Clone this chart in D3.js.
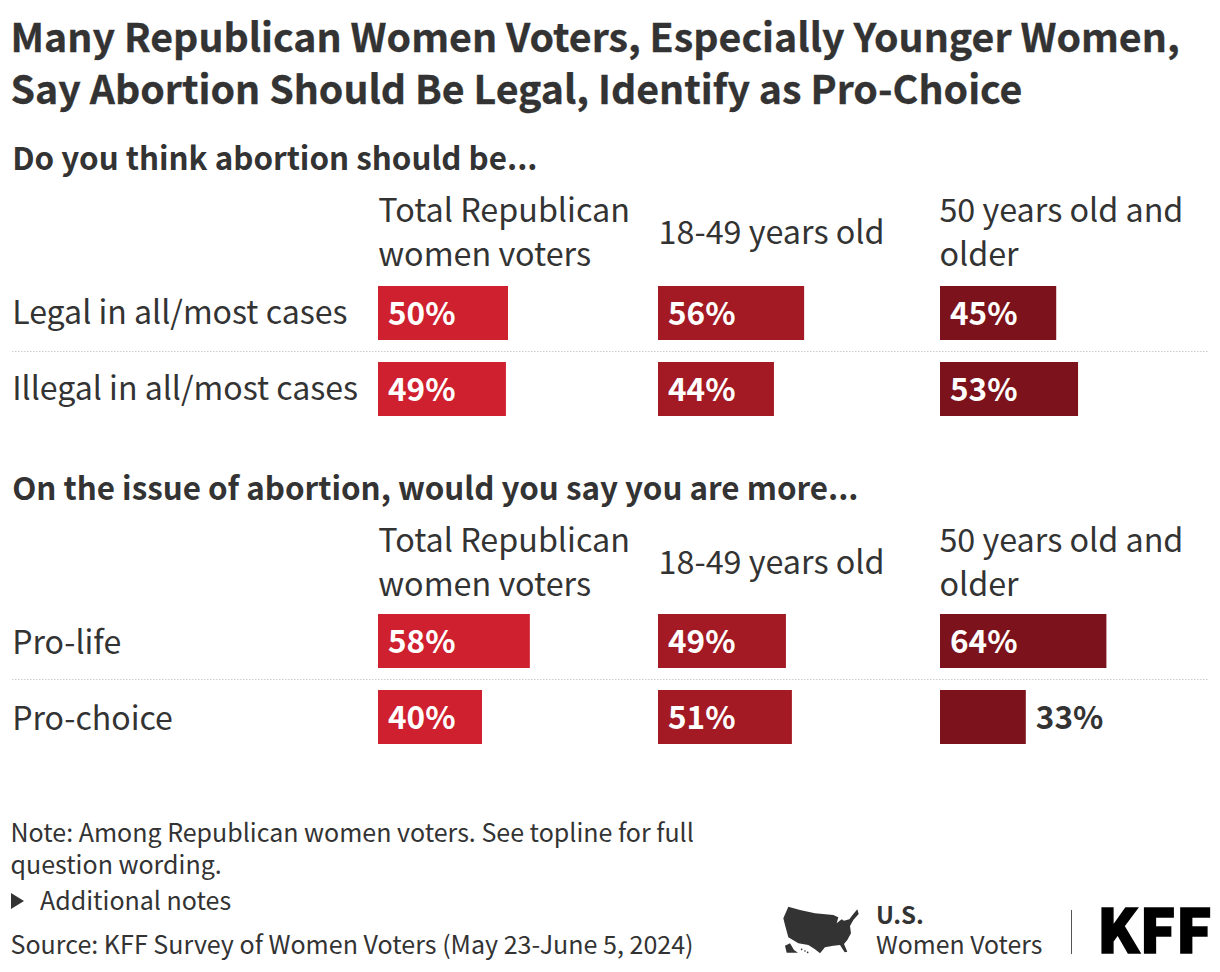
<!DOCTYPE html>
<html><head><meta charset="utf-8">
<script src="https://cdn.jsdelivr.net/npm/d3@7"></script>
<style>html,body{margin:0;padding:0;background:#fff}svg{display:block}text{font-family:"Noto Sans CJK SC","Noto Sans",sans-serif}</style>
</head><body><svg id="c" width="1220" height="972"></svg>
<script>
const titleLines=["Many Republican Women Voters, Especially Younger Women,","Say Abortion Should Be Legal, Identify as Pro-Choice"];
const groups=["Total Republican|women voters","18-49 years old","50 years old and|older"];
const colors=["#cf202f","#a31a25","#7c121b"];
const q1="Do you think abortion should be...";
const q1Cats=["Legal in all/most cases","Illegal in all/most cases"];
const q1Labels=[[50,56,45],[49,44,53]];
const q1Vals=[[50,56.2,44.7],[49.2,44.6,53.1]];
const q2="On the issue of abortion, would you say you are more...";
const q2Cats=["Pro-life","Pro-choice"];
const q2Labels=[[58,49,64],[40,51,33]];
const q2Vals=[[58.4,49.2,64],[40,51.5,33]];
const noteLines=["Note: Among Republican women voters. See topline for full","question wording."];
const x=d3.scaleLinear().domain([0,100]).range([0,260]);
const colX=[378,658,940];
const svg=d3.select("#c");
const ink="#333";
function t(s,xx,y,size,weight,fill){return svg.append("text").attr("x",xx).attr("y",y).attr("font-size",size).attr("font-weight",weight||400).attr("fill",fill||ink).text(s);}
titleLines.forEach((l,i)=>t(l,10.5,52+i*52,39.3,700).attr("stroke",ink).attr("stroke-width",0.3));
function block(q,cats,vals,labels,qy,hy,rowY,labelDy){
 t(q,12.2,qy,31.35,700);
 groups.forEach((g,i)=>{const ls=g.split("|");
  ls.forEach((l,j)=>t(l,colX[i]+(i==1?0.6:(i==2?-0.6:0.3)),(ls.length==1?hy+22:hy+j*44),32.3));});
 cats.forEach((c,r)=>{
  t(c,12.2,rowY[r]+38+labelDy,32.1);
  vals[r].forEach((v,i)=>{
   const w=x(v), lab=labels[r][i];
   svg.append("rect").attr("x",colX[i]).attr("y",rowY[r]).attr("width",w).attr("height",54).attr("fill",colors[i]);
   const inside=lab>=40;
   t(lab+"%",inside?colX[i]+10:colX[i]+w+10,rowY[r]+39,31.5,700,inside?"#fff":ink);
  });
 });
 svg.append("line").attr("x1",12).attr("x2",1208).attr("y1",rowY[0]+65.5).attr("y2",rowY[0]+65.5).attr("stroke","#ccc").attr("stroke-width",1.2).attr("stroke-dasharray","1.5 1.5");
}
block(q1,q1Cats,q1Vals,q1Labels,170,222,[286,362],0);
block(q2,q2Cats,q2Vals,q2Labels,500,552,[614,690],2);
noteLines.forEach((l,i)=>t(l,10.5,842+i*32,25));
svg.append("path").attr("d",d3.line()([[11,893],[24,901],[11,909]])+"Z").attr("fill",ink);
t("Additional notes",40,910,25);
t("Source: KFF Survey of Women Voters (May 23-June 5, 2024)",10.5,954,25.05);
// U.S. map logo
const usOutline=[[55,50],[90,60],[135,70],[190,75],[205,82],[200,100],[215,88],[222,92],[238,88],[250,72],[262,58],[266,72],[250,90],[240,108],[243,130],[232,150],[222,162],[232,185],[224,187],[210,165],[190,167],[165,172],[150,190],[135,178],[115,165],[85,160],[55,142],[45,105],[40,85]];
const akOutline=[[45,167],[60,160],[72,180],[84,188],[50,188]];
const logo=svg.append("g").attr("transform","translate(770,890) scale(0.3333)").attr("fill",ink);
logo.append("path").attr("d",d3.line()(usOutline)+"Z");
logo.append("path").attr("d",d3.line()(akOutline)+"Z");
[[95,178],[105,183],[113,187]].forEach(p=>logo.append("circle").attr("cx",p[0]).attr("cy",p[1]).attr("r",2.5));
t("U.S.",876,924,24,700);
t("Women Voters",876,954,24.8);
svg.append("line").attr("x1",1071.5).attr("x2",1071.5).attr("y1",910).attr("y2",954).attr("stroke","#555");
t("KFF",1097,953,60,900,"#000").attr("stroke","#000").attr("stroke-width",1.5);
</script></body></html>
